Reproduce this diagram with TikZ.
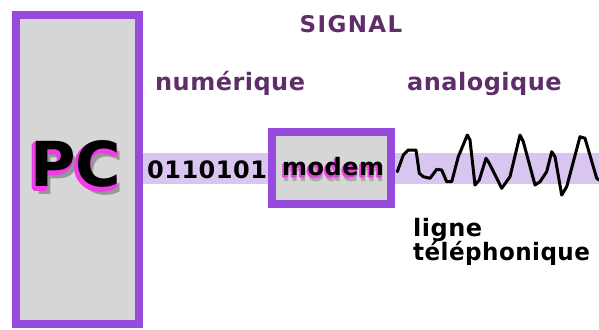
\documentclass[tikz,border=0pt]{standalone}
\usepackage{fontspec}
\setmainfont{DejaVu Sans}
\newfontfamily\vb[LetterSpace=2]{DejaVu Sans}
\newfontfamily\vbw[LetterSpace=6]{DejaVu Sans}
\newfontfamily\pcf{DejaVu Sans}
\definecolor{boxpurple}{RGB}{150,75,220}
\definecolor{boxgray}{RGB}{214,214,214}
\definecolor{bandpurple}{RGB}{216,198,240}
\definecolor{txtpurple}{RGB}{95,45,105}
\definecolor{mag}{RGB}{240,60,230}
\definecolor{shgray}{RGB}{90,90,90}
\tikzset{
  frame/.style={draw=boxpurple, line width=8pt, fill=boxgray, inner sep=0pt},
  lbl/.style={font=\vb\bfseries\fontsize{24}{24}\selectfont, inner sep=0pt},
  plbl/.style={lbl, text=txtpurple},
  big/.style={font=\pcf\bfseries\fontsize{62}{62}\selectfont, inner sep=0pt},
}
\begin{document}
\begin{tikzpicture}[x=1pt, y=-1pt]
\useasboundingbox (0,0) rectangle (599,329);
% band
\fill[bandpurple] (143,153) rectangle (599,184);
% PC box
\node[frame, minimum width=123pt, minimum height=309pt] (pcbox) at (77.5,169.5) {};
% PC text with shadow and glow
\node[big, text=shgray, opacity=0.5] at (79,172) {PC};
\foreach \dx/\dy in {-2/0,2/0,0/-2,0/2,-1.4/-1.4,1.4/1.4,-1.4/1.4,1.4/-1.4}
  \node[big, text=mag] at (74+\dx,167+\dy) {PC};
\node[big] (pc) at (76,164) {PC};
% modem box
\node[frame, minimum width=119pt, minimum height=72pt] (modembox) at (331.5,168) {};
\node[lbl, anchor=base west, text=shgray, opacity=0.35] at (282,181) {modem};
\foreach \dx/\dy in {-1/0,1/0,0/-1,0/1}
  \node[lbl, anchor=base west, text=mag, opacity=0.8] at (281+\dx,177.5+\dy) {modem};
\node[lbl, anchor=base west] (modem) at (282,175) {modem};
% bits
\node[lbl, anchor=base west] (bits) at (147,178) {0110101};
% titles
\node[lbl, font=\vbw\bfseries\fontsize{23}{23}\selectfont, text=txtpurple] (signal) at (351,24) {SIGNAL};
\node[plbl, anchor=base west] (num) at (155,90) {numérique};
\node[plbl, anchor=base west] (ana) at (407,90) {analogique};
% line label
\node[lbl, anchor=base west] (ligne) at (413,236) {ligne};
\node[lbl, anchor=base west, xscale=0.96] (tel) at (413,260) {téléphonique};
% wave
\draw[line width=3pt, line join=round, line cap=round]
  (397.3,171.7) -- (403.3,155) -- (408.3,150) -- (416,150) -- (419.3,173.3)
  -- (423.3,176.7) -- (430,178.3) -- (436.7,169.3) -- (441.7,170) -- (446.7,181.7)
  -- (451.7,181.7) -- (458.3,156.7) -- (467.3,135) -- (470,140) -- (475,185)
  -- (479.3,180) -- (486,158.3) -- (489.3,163.3) -- (501.7,188.3) -- (510,176.7)
  -- (520,135) -- (523.3,141.7) -- (535,185) -- (540,181.7) -- (546.7,171.7)
  -- (551.7,151.7) -- (555,156.7) -- (561.7,195) -- (566.7,186.7) -- (580,136.7)
  -- (585,138.3) -- (596.7,178.3) -- (599,180);
\end{tikzpicture}
\end{document}
